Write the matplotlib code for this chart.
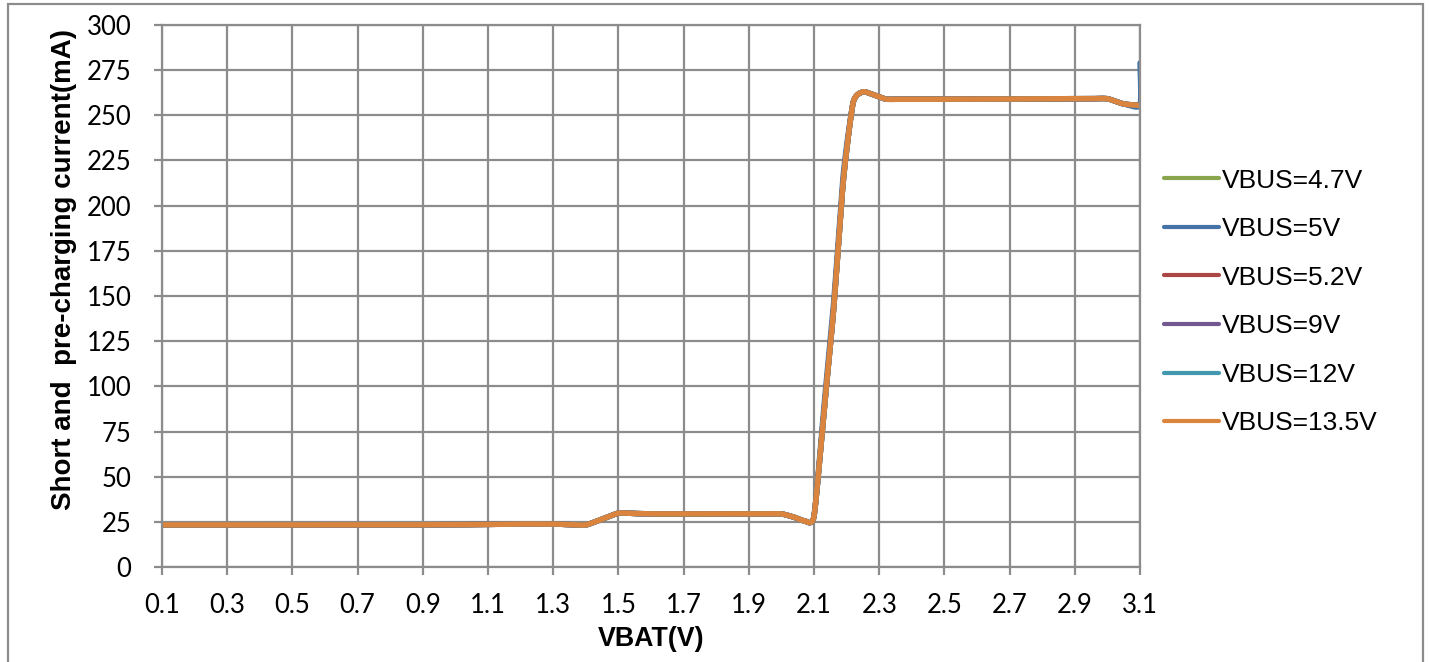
"""
Short-circuit / pre-charge current vs VBAT for several VBUS values
"""

import numpy as np
import matplotlib
matplotlib.use('Agg')
import matplotlib.pyplot as plt
from matplotlib.patches import Rectangle

# VBAT sweep (V); denser readings around the pre-charge -> fast-charge step
vbat = [0.10, 0.15, 0.20, 0.25, 0.30, 0.35, 0.40, 0.45, 0.50, 0.55,
        0.60, 0.65, 0.70, 0.75, 0.80, 0.85, 0.90, 0.95, 1.00, 1.05,
        1.10, 1.15, 1.20, 1.25, 1.30, 1.35, 1.40, 1.45, 1.50, 1.55,
        1.60, 1.65, 1.70, 1.75, 1.80, 1.85, 1.90, 1.95, 2.00, 2.04,
        2.07, 2.10, 2.13, 2.16, 2.19, 2.22, 2.25, 2.28, 2.32, 2.35,
        2.40, 2.45, 2.50, 2.55, 2.60, 2.65, 2.70, 2.75, 2.80, 2.85,
        2.90, 2.95, 3.00, 3.05, 3.10]

# measured current (mA); all VBUS curves sit on top of each other
i_common = [23.3, 23.3, 23.3, 23.3, 23.3, 23.3, 23.3, 23.3, 23.3, 23.3,
            23.3, 23.3, 23.3, 23.3, 23.3, 23.3, 23.4, 23.4, 23.4, 23.5,
            23.6, 23.7, 23.8, 23.8, 23.8, 23.5, 23.3, 26.5, 29.8, 29.6,
            29.4, 29.4, 29.4, 29.4, 29.4, 29.4, 29.4, 29.4, 29.4, 27.5,
            25.6, 28.0, 85.0, 142.0, 214.0, 257.0, 263.0, 261.5, 259.0, 258.9,
            258.9, 258.9, 258.9, 258.9, 259.0, 259.0, 259.0, 259.1, 259.1, 259.2,
            259.2, 259.2, 259.2, 256.3, 255.5]

i_vbus_4v7 = list(i_common)
i_vbus_5v = i_common[:42] + [88.0, 146.0, 218.0] + i_common[45:]
i_vbus_5v2 = list(i_common)
i_vbus_9v = list(i_common)
i_vbus_12v = list(i_common)
i_vbus_13v5 = list(i_common)

# the 5V run has one extra reading at the very end
vbat_5v = vbat + [3.10]
i_vbus_5v = i_vbus_5v + [279.0]

labels = ['VBUS=4.7V', 'VBUS=5V', 'VBUS=5.2V', 'VBUS=9V', 'VBUS=12V', 'VBUS=13.5V']
colors = ['#89A54E', '#4572A7', '#AA4643', '#71588F', '#4198AF', '#DB843D']


def smooth(x, y, n=16, tension=0.6):
    # cardinal spline through the points, like a spreadsheet "smoothed line"
    out = []
    for arr in (np.asarray(x, float), np.asarray(y, float)):
        p = np.concatenate([[arr[0]], arr, [arr[-1]]])
        m = tension * (p[2:] - p[:-2]) / 2
        t = np.linspace(0, 1, n, endpoint=False)[:, None]
        h00 = 2 * t ** 3 - 3 * t ** 2 + 1
        h10 = t ** 3 - 2 * t ** 2 + t
        h01 = -2 * t ** 3 + 3 * t ** 2
        h11 = t ** 3 - t ** 2
        seg = h00 * arr[:-1] + h10 * m[:-1] + h01 * arr[1:] + h11 * m[1:]
        out.append(np.append(seg.T.ravel(), arr[-1]))
    return out[0], out[1]


fig = plt.figure(figsize=(14.29, 6.62), dpi=100)
ax = fig.add_axes([162 / 1429, 1 - 567 / 662, (1140 - 162) / 1429, (567 - 25) / 662])

series = [(vbat, i_vbus_4v7), (vbat_5v, i_vbus_5v), (vbat, i_vbus_5v2),
          (vbat, i_vbus_9v), (vbat, i_vbus_12v), (vbat, i_vbus_13v5)]
for (xv, yv), lab, col in zip(series, labels, colors):
    xs, ys = smooth(xv, yv)
    ax.plot(xs, ys, color=col, lw=3.9, solid_capstyle='round', label=lab)

grid_col = '#8C8C8C'
ax.set_xlim(0.1, 3.1)
ax.set_ylim(0, 300)
ax.set_xticks(np.round(np.arange(0.1, 3.11, 0.2), 1))
ax.set_xticklabels(['{:.1f}'.format(v) for v in np.arange(0.1, 3.11, 0.2)])
ax.set_yticks(np.arange(0, 301, 25))
ax.grid(True, color=grid_col, lw=1.6)
ax.set_axisbelow(True)
for s in ax.spines.values():
    s.set_color(grid_col)
    s.set_linewidth(1.6)
ax.tick_params(axis='both', direction='out', length=6, width=1.6, color=grid_col,
               labelsize=18.5)
ax.tick_params(axis='y', pad=16)
ax.tick_params(axis='x', pad=13)
for lab in ax.get_xticklabels() + ax.get_yticklabels():
    lab.set_family('Lato')

ax.set_xlabel('VBAT(V)', fontsize=19.3, fontweight='bold', family='Liberation Sans')
ax.xaxis.set_label_coords(0.5, (567 - 626) / 542)
ax.set_ylabel('Short and  pre-charging current(mA)', fontsize=20, fontweight='bold',
              family='Liberation Sans')
ax.yaxis.set_label_coords((77 - 162) / 978, (567 - 270) / 542)

leg_lines = [plt.Line2D([], [], color=c, lw=3.0, solid_capstyle='round') for c in colors]
fig.legend(leg_lines, labels, loc='center left', bbox_to_anchor=(1153 / 1429, 1 - 302 / 662),
           frameon=False, handlelength=2.1, handletextpad=0.1, labelspacing=0.93,
           prop={'family': 'Liberation Sans', 'size': 19}, borderaxespad=0)

# outer chart frame
fig.patches.append(Rectangle((8 / 1429, -0.02), (1423 - 8) / 1429, 1.02 - 4 / 662,
                             transform=fig.transFigure, fill=False, edgecolor='#8C8C8C', lw=1.6))

fig.savefig('out.png', dpi=100)
